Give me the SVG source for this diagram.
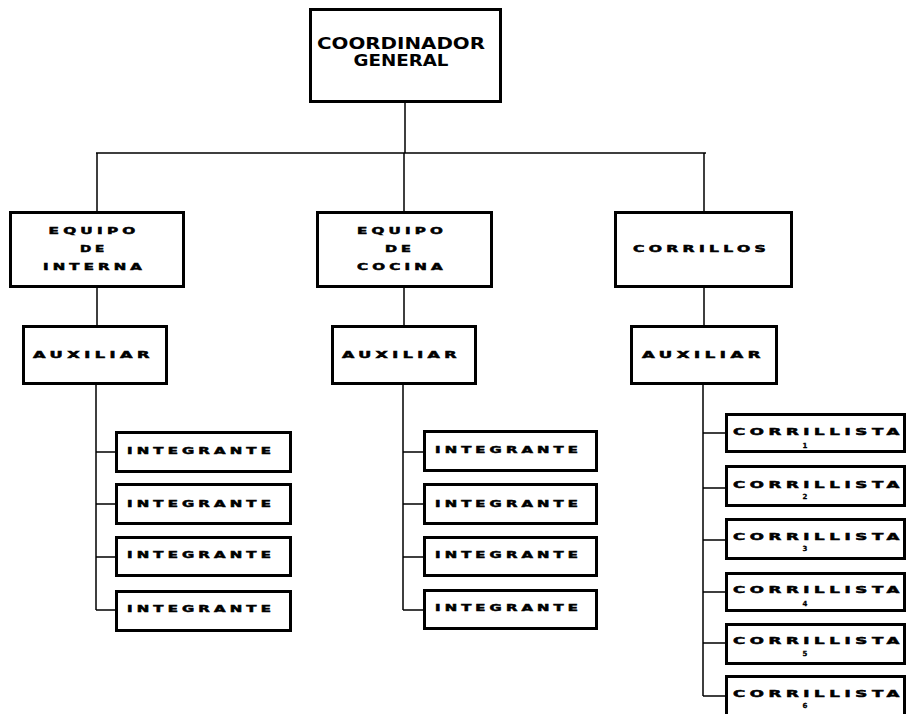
<svg xmlns="http://www.w3.org/2000/svg" width="909" height="714" viewBox="0 0 909 714">
<style>
.box{fill:#fff;stroke:#000;stroke-width:3}
.ln{stroke:#000;stroke-width:1.5;fill:none}
.t{font-family:"DejaVu Sans",sans-serif;font-weight:bold;font-size:9px;letter-spacing:2.5px;fill:#000;stroke:#000;stroke-width:0.5;text-anchor:middle}
.n{font-family:"DejaVu Sans",sans-serif;font-weight:bold;font-size:7px;fill:#000;stroke:#000;stroke-width:0.3;text-anchor:middle}
.h{font-family:"DejaVu Sans",sans-serif;font-weight:bold;font-size:15.5px;fill:#000;text-anchor:middle}
</style>
<rect width="909" height="714" fill="#fff"/>
<g id="connectors">
<path class="ln" d="M405 103V153M96 153H706M97 153V211M404 153V211M704 153V211"/>
<path class="ln" d="M97 288V325M404 288V325M704 288V325"/>
<path class="ln" d="M96 385V610M96 452H115M96 504H115M96 557H115M96 610H115"/>
<path class="ln" d="M403 385V610M403 452H423M403 504H423M403 557H423M403 610H423"/>
<path class="ln" d="M703 385V696M703 433H725M703 488H725M703 540H725M703 592H725M703 643H725M703 696H725"/>
</g>
<g id="coordinador">
<rect class="box" x="310.5" y="9.5" width="190" height="92"/>
<text class="h" x="401" y="49" textLength="168" lengthAdjust="spacingAndGlyphs">COORDINADOR</text>
<text class="h" x="401" y="66" textLength="95" lengthAdjust="spacingAndGlyphs">GENERAL</text>
</g>
<g id="equipo-interna">
<rect class="box" x="10.5" y="212.5" width="173" height="74"/>
<text class="t" x="94" y="234" textLength="91" lengthAdjust="spacingAndGlyphs">EQUIPO</text>
<text class="t" x="94" y="252" textLength="28" lengthAdjust="spacingAndGlyphs">DE</text>
<text class="t" x="94.5" y="270" textLength="103" lengthAdjust="spacingAndGlyphs">INTERNA</text>
</g>
<g id="equipo-cocina">
<rect class="box" x="317.5" y="212.5" width="174" height="74"/>
<text class="t" x="402" y="234" textLength="90" lengthAdjust="spacingAndGlyphs">EQUIPO</text>
<text class="t" x="400" y="252" textLength="30" lengthAdjust="spacingAndGlyphs">DE</text>
<text class="t" x="402" y="270" textLength="90" lengthAdjust="spacingAndGlyphs">COCINA</text>
</g>
<g id="corrillos">
<rect class="box" x="615.5" y="212.5" width="176" height="74"/>
<text class="t" x="701.5" y="252" textLength="137" lengthAdjust="spacingAndGlyphs">CORRILLOS</text>
</g>
<g id="auxiliar-1">
<rect class="box" x="23.5" y="326.5" width="143" height="57"/>
<text class="t" x="93.5" y="358" textLength="121" lengthAdjust="spacingAndGlyphs">AUXILIAR</text>
</g>
<g id="auxiliar-2">
<rect class="box" x="332.5" y="326.5" width="143" height="57"/>
<text class="t" x="401.5" y="358" textLength="119" lengthAdjust="spacingAndGlyphs">AUXILIAR</text>
</g>
<g id="auxiliar-3">
<rect class="box" x="631.5" y="326.5" width="145" height="57"/>
<text class="t" x="703.5" y="358" textLength="123" lengthAdjust="spacingAndGlyphs">AUXILIAR</text>
</g>
<g id="integrante-1-1"><rect class="box" x="116.5" y="432.5" width="174" height="39"/><text class="t" x="201" y="454" textLength="148" lengthAdjust="spacingAndGlyphs">INTEGRANTE</text></g>
<g id="integrante-1-2"><rect class="box" x="116.5" y="484.5" width="174" height="39"/><text class="t" x="201" y="507" textLength="148" lengthAdjust="spacingAndGlyphs">INTEGRANTE</text></g>
<g id="integrante-1-3"><rect class="box" x="116.5" y="537.5" width="174" height="38"/><text class="t" x="201" y="558" textLength="148" lengthAdjust="spacingAndGlyphs">INTEGRANTE</text></g>
<g id="integrante-1-4"><rect class="box" x="116.5" y="591.5" width="174" height="39"/><text class="t" x="201" y="612" textLength="148" lengthAdjust="spacingAndGlyphs">INTEGRANTE</text></g>
<g id="integrante-2-1"><rect class="box" x="424.5" y="431.5" width="172" height="39"/><text class="t" x="508.5" y="453" textLength="147" lengthAdjust="spacingAndGlyphs">INTEGRANTE</text></g>
<g id="integrante-2-2"><rect class="box" x="424.5" y="484.5" width="172" height="39"/><text class="t" x="508.5" y="507" textLength="147" lengthAdjust="spacingAndGlyphs">INTEGRANTE</text></g>
<g id="integrante-2-3"><rect class="box" x="424.5" y="537.5" width="172" height="38"/><text class="t" x="508.5" y="558" textLength="147" lengthAdjust="spacingAndGlyphs">INTEGRANTE</text></g>
<g id="integrante-2-4"><rect class="box" x="424.5" y="590.5" width="172" height="38"/><text class="t" x="508.5" y="611" textLength="147" lengthAdjust="spacingAndGlyphs">INTEGRANTE</text></g>
<g id="corrillista-1"><rect class="box" x="726.5" y="414.5" width="178" height="37"/><text class="t" x="818.5" y="435" textLength="171" lengthAdjust="spacingAndGlyphs">CORRILLISTA</text><text class="n" x="805" y="448">1</text></g>
<g id="corrillista-2"><rect class="box" x="726.5" y="466.5" width="178" height="39"/><text class="t" x="818.5" y="488" textLength="171" lengthAdjust="spacingAndGlyphs">CORRILLISTA</text><text class="n" x="805" y="499">2</text></g>
<g id="corrillista-3"><rect class="box" x="726.5" y="519.5" width="178" height="39"/><text class="t" x="818.5" y="540" textLength="171" lengthAdjust="spacingAndGlyphs">CORRILLISTA</text><text class="n" x="805" y="551">3</text></g>
<g id="corrillista-4"><rect class="box" x="726.5" y="573.5" width="178" height="37"/><text class="t" x="818.5" y="593" textLength="171" lengthAdjust="spacingAndGlyphs">CORRILLISTA</text><text class="n" x="805" y="606">4</text></g>
<g id="corrillista-5"><rect class="box" x="726.5" y="624.5" width="178" height="39"/><text class="t" x="818.5" y="644" textLength="171" lengthAdjust="spacingAndGlyphs">CORRILLISTA</text><text class="n" x="805" y="656">5</text></g>
<g id="corrillista-6"><rect class="box" x="726.5" y="676.5" width="178" height="42"/><text class="t" x="818.5" y="697" textLength="171" lengthAdjust="spacingAndGlyphs">CORRILLISTA</text><text class="n" x="805" y="708">6</text></g>
</svg>
